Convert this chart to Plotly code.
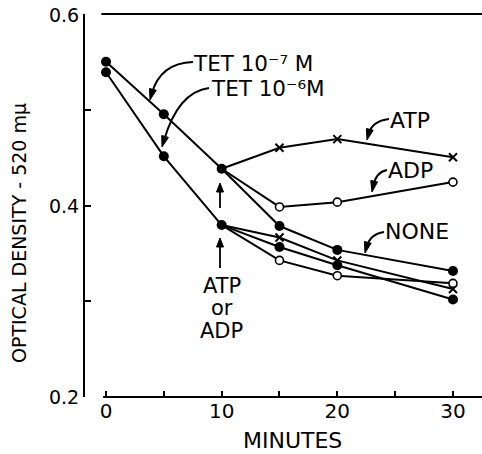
import plotly.graph_objects as go

# ---------------- data ----------------
minutes_pre = [0, 5, 10]
tet7_pre = [0.551, 0.496, 0.439]
tet6_pre = [0.540, 0.452, 0.380]

minutes_post = [10, 15, 20, 30]
tet7_atp = [0.439, 0.461, 0.470, 0.451]
tet7_adp = [0.439, 0.399, 0.404, 0.425]
tet7_none = [0.439, 0.379, 0.354, 0.332]
tet6_atp = [0.380, 0.367, 0.343, 0.313]
tet6_adp = [0.380, 0.343, 0.327, 0.319]
tet6_none = [0.380, 0.357, 0.338, 0.302]

x_ticks = [0, 5, 10, 15, 20, 25, 30]
x_ticktext = ['0', '', '10', '', '20', '', '30']
y_ticks = [0.2, 0.3, 0.4, 0.5, 0.6]
y_ticktext = ['0.2', '', '0.4', '', '0.6']

# ---------------- layout geometry ----------------
W, H = 482, 454
L, R, T, B = 85, 0, 14, 57
XMIN, XMAX = -1.816, 32.51
YMIN, YMAX = 0.2, 0.601
FONT = "DejaVu Sans"
BLACK = "black"


def pp(xp, yp):
    """pixel -> paper coordinates"""
    return (xp - L) / (W - L - R), (H - B - yp) / (H - T - B)


def xpaper(xv):
    return (xv - XMIN) / (XMAX - XMIN)


fig = go.Figure()

FILLED = dict(symbol='circle', size=10, color=BLACK)
OPEN = dict(symbol='circle', size=8, color='white', line=dict(color=BLACK, width=1.6))
CROSS = dict(symbol='x-thin-open', size=8, line=dict(color=BLACK, width=2), color=BLACK)

line_style = dict(color=BLACK, width=2)

post_series = [
    (tet7_atp, CROSS), (tet7_adp, OPEN), (tet7_none, FILLED),
    (tet6_atp, CROSS), (tet6_adp, OPEN), (tet6_none, FILLED),
]

# lines
for ys in (tet7_pre, tet6_pre):
    fig.add_trace(go.Scatter(x=minutes_pre, y=ys, mode='lines', line=line_style,
                             showlegend=False, hoverinfo='skip'))
for ys, mk in post_series:
    fig.add_trace(go.Scatter(x=minutes_post, y=ys, mode='lines', line=line_style,
                             showlegend=False, hoverinfo='skip'))
# markers
for ys, mk in post_series:
    fig.add_trace(go.Scatter(x=minutes_post[1:], y=ys[1:], mode='markers', marker=mk,
                             showlegend=False, cliponaxis=False))
for ys in (tet7_pre, tet6_pre):
    fig.add_trace(go.Scatter(x=minutes_pre, y=ys, mode='markers', marker=FILLED,
                             showlegend=False, cliponaxis=False))

shapes = []
# bottom axis line (starts just left of 0)
shapes.append(dict(type='line', xref='paper', yref='paper', x0=xpaper(-0.25), x1=1.0,
                   y0=0, y1=0, line=dict(color=BLACK, width=2)))
# top frame line
shapes.append(dict(type='line', xref='paper', yref='paper', x0=xpaper(-0.4), x1=1.0,
                   y0=1, y1=1, line=dict(color=BLACK, width=2)))


def arrowhead(tip, back, length=10, half=4):
    dx, dy = tip[0] - back[0], tip[1] - back[1]
    n = (dx * dx + dy * dy) ** 0.5
    ux, uy = dx / n, dy / n
    bx, by = tip[0] - ux * length, tip[1] - uy * length
    px_, py_ = -uy * half, ux * half
    pts = [tip, (bx + px_, by + py_), (bx - px_, by - py_)]
    pts = [pp(*p) for p in pts]
    path = "M {},{} L {},{} L {},{} Z".format(pts[0][0], pts[0][1], pts[1][0], pts[1][1],
                                               pts[2][0], pts[2][1])
    shapes.append(dict(type='path', xref='paper', yref='paper', path=path,
                       fillcolor=BLACK, line=dict(color=BLACK, width=1)))


# curved arrows: (start, control, tip)
curves = [
    ((193, 62), (160, 63), (150, 100)),
    ((209, 88), (178, 92), (162, 147)),
    ((389, 119), (372, 121), (367, 140)),
    ((387, 170), (376, 172), (372, 192)),
    ((384, 232), (370, 234), (365, 253)),
]
for (s, c, e) in curves:
    sx, sy = pp(*s)
    cx, cy = pp(*c)
    dx, dy = e[0] - c[0], e[1] - c[1]
    n = (dx * dx + dy * dy) ** 0.5
    ee = (e[0] - dx / n * 6, e[1] - dy / n * 6)
    ex, ey = pp(*ee)
    shapes.append(dict(type='path', xref='paper', yref='paper',
                       path=f"M {sx},{sy} Q {cx},{cy} {ex},{ey}",
                       line=dict(color=BLACK, width=2)))
    arrowhead(e, c, length=11, half=3.5)

# vertical arrows at 10 min
for head, tail in (((220, 183), (220, 208)), ((220, 238), (220, 268))):
    hx, hy = pp(head[0], head[1] + 6)
    tx, ty = pp(*tail)
    shapes.append(dict(type='line', xref='paper', yref='paper', x0=tx, y0=ty, x1=hx, y1=hy,
                       line=dict(color=BLACK, width=1.8)))
    arrowhead(head, tail, length=9, half=3.5)

annotations = []


def label(text, xp, yp, size, xanchor='left', yanchor='middle', angle=0):
    x, y = pp(xp, yp)
    annotations.append(dict(xref='paper', yref='paper', x=x, y=y, text=text,
                            showarrow=False, xanchor=xanchor, yanchor=yanchor,
                            textangle=angle, font=dict(family=FONT, size=size, color=BLACK)))


label('TET 10⁻⁷ M', 191, 64, 21.5)
label('TET 10⁻⁶M', 209, 89, 21.5)
label('ATP', 388, 120, 22)
label('ADP', 386, 170, 22)
label('NONE', 383, 232, 22)
label('ATP', 222, 286, 21, xanchor='center')
label('or', 222, 308, 21, xanchor='center')
label('ADP', 221, 331, 21, xanchor='center')
label('MINUTES', 292, 440, 22, xanchor='center')
label('OPTICAL DENSITY - 520 mμ', 19, 233, 19, xanchor='center', angle=-90)

fig.update_layout(
    width=W, height=H,
    margin=dict(l=L, r=R, t=T, b=B, autoexpand=False),
    paper_bgcolor='white', plot_bgcolor='white',
    shapes=shapes, annotations=annotations,
    xaxis=dict(range=[XMIN, XMAX], showgrid=False, zeroline=False, showline=False,
               tickmode='array', tickvals=x_ticks, ticktext=x_ticktext,
               ticks='inside', ticklen=6, tickwidth=2, tickcolor=BLACK,
               tickfont=dict(family=FONT, size=20, color=BLACK)),
    yaxis=dict(range=[YMIN, YMAX], showgrid=False, zeroline=False, showline=True,
               linecolor=BLACK, linewidth=2,
               tickmode='array', tickvals=y_ticks, ticktext=y_ticktext,
               ticks='inside', ticklen=6, tickwidth=2, tickcolor=BLACK,
               tickfont=dict(family=FONT, size=19, color=BLACK)),
)

fig.write_html("out.html")
